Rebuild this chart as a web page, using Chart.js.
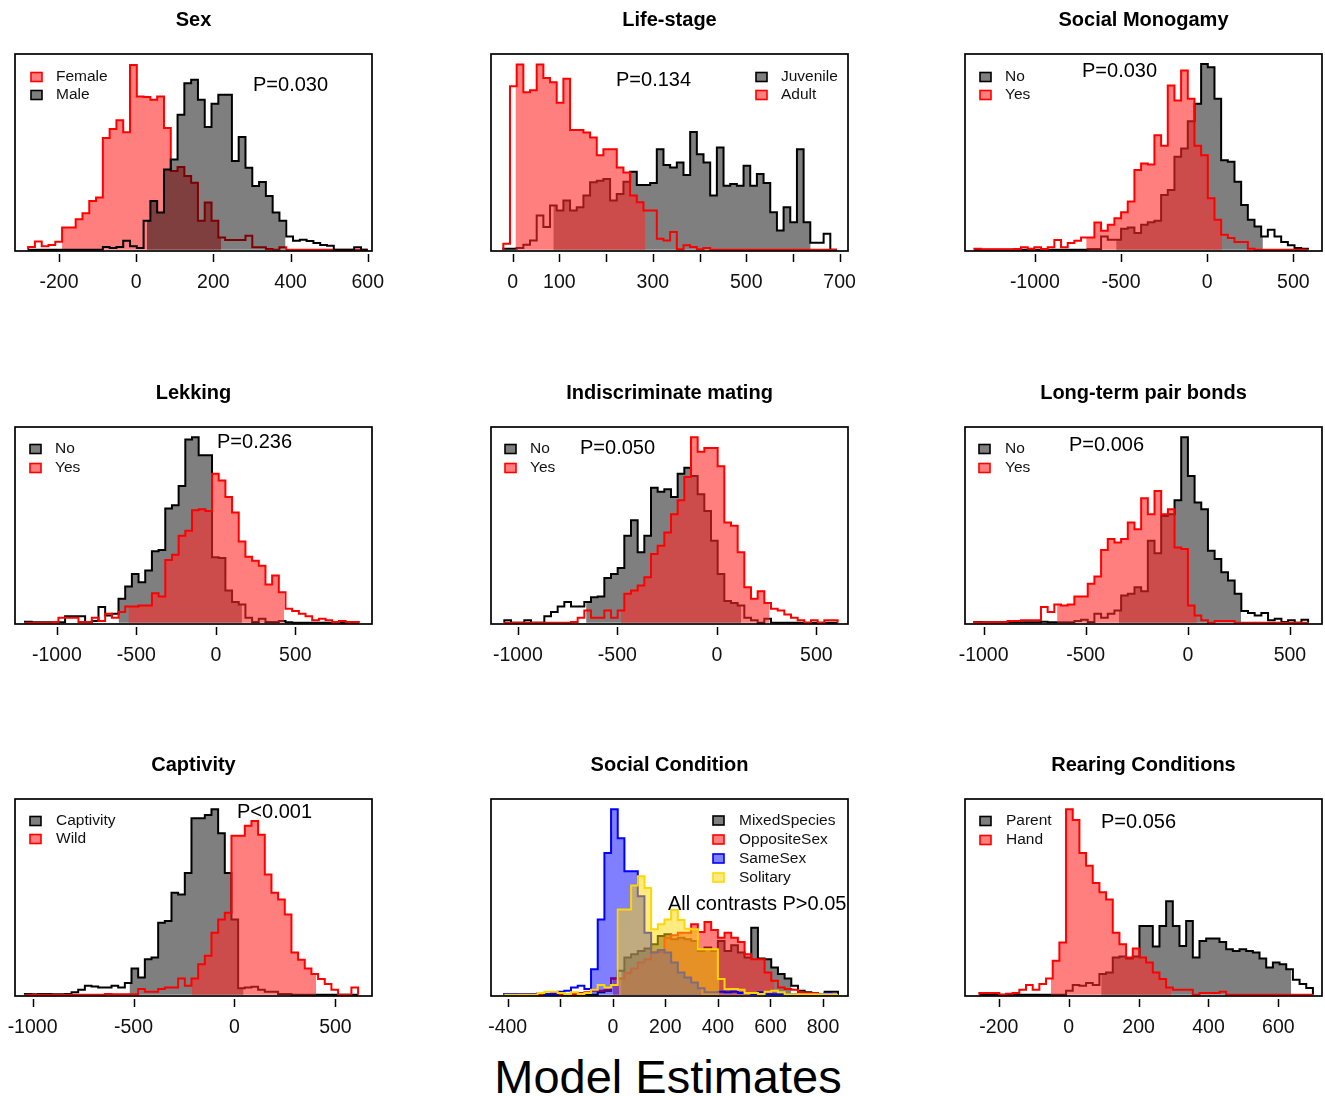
<!DOCTYPE html>
<html>
<head>
<meta charset="utf-8">
<title>Model Estimates</title>
<script src="https://cdn.jsdelivr.net/npm/chart.js@4.4.1/dist/chart.umd.min.js"></script>
<style>
html,body{margin:0;padding:0;background:#ffffff;}
body{position:relative;width:1325px;height:1096px;overflow:hidden;font-family:"Liberation Sans",Arial,Helvetica,sans-serif;}
.pane{position:absolute;}
.pane canvas{display:block;}
#xlab{position:absolute;left:668px;top:1049px;transform:translateX(-50%);font-size:47px;line-height:56px;white-space:nowrap;color:#000;}
</style>
</head>
<body>
<div id="xlab">Model Estimates</div>
<script>
// ---------------- DATA ----------------
const panelTitles = ["Sex", "Life-stage", "Social Monogamy", "Lekking", "Indiscriminate mating",
  "Long-term pair bonds", "Captivity", "Social Condition", "Rearing Conditions"];
const panelNotes = ["P=0.030", "P=0.134", "P=0.030", "P=0.236", "P=0.050", "P=0.006", "P<0.001",
  "All contrasts P>0.05", "P=0.056"];

// x-axis tick values and the ones that carry a label
const ticksSex = [-200, 0, 200, 400, 600];
const ticksLife = [0, 100, 200, 300, 400, 500, 600, 700];
const labelsLife = [0, 100, 300, 500, 700];
const ticksWide = [-1000, -500, 0, 500];
const ticksSocial = [-400, -200, 0, 200, 400, 600, 800];
const labelsSocial = [-400, 0, 200, 400, 600, 800];
const ticksRear = [-200, 0, 200, 400, 600];

// histogram frequencies (50 bins each), bin layout {start, width}, shaded 95% interval
const sexBins = { start: -280, width: 17.6 };
const sexFemale = [8,25,10,14,24,67,67,92,110,147, 157,337,364,390,354,557,462,460,452,462, 367,237,249,222,202,87,142,87,37,29, 29,29,42,7,7,2,0,7,0,0, 0,0,0,0,0,0,0,0,0,0];
const sexFemaleCI = [-192, 220];
const sexMale = [0,0,0,0,0,0,0,0,0,0, 0,8,5,8,27,10,5,87,147,112, 242,272,407,502,512,452,370,440,467,467, 267,340,247,192,204,162,112,87,40,27, 30,26,20,14,12,0,0,0,7,0];
const sexMaleCI = [28, 387];

const lifeBins = { start: -20, width: 14.286 };
const lifeJuvenile = [3,3,5,15,28,103,68,133,118,148, 118,128,163,203,208,213,148,168,205,235, 195,195,201,303,255,248,263,225,355,288, 263,163,308,193,198,193,253,193,228,201, 113,58,128,83,303,83,21,21,48,0];
const lifeJuvenileCI = [87, 638];
const lifeAdult = [18,493,558,475,481,558,518,505,443,515, 361,361,353,338,285,303,303,248,233,163, 143,118,118,33,28,53,1,13,8,1, 5,0,0,0,0,0,0,0,0,0, 0,0,0,0,0,0,0,0,0,0];
const lifeAdultCI = [6, 284];

const monoBins = { start: -1351, width: 38.7 };
const monoNo = [0,0,0,0,0,0,0,0,0,0, 0,0,0,0,0,0,0,2,2,40, 30,30,63,67,50,75,83,87,165,180, 280,305,387,440,560,550,455,270,265,205, 135,90,70,40,60,40,23,13,5,3];
const monoNoCI = [-528, 323];
const monoYes = [3,1,1,1,1,1,2,7,3,7, 2,7,29,7,20,27,37,37,82,57, 75,95,113,145,240,260,257,345,313,495, 450,540,455,313,285,155,90,45,35,23, 23,3,0,0,0,0,0,0,0,0];
const monoYesCI = [-702, 87];

const lekBins = { start: -1200, width: 42 };
const lekNo = [3,1,1,1,1,1,19,19,19,2, 5,47,22,27,72,109,147,122,157,215, 219,344,354,412,552,559,505,505,197,195, 97,62,55,15,2,12,2,2,5,1, 0,0,0,0,0,0,0,0,0,0];
const lekNoCI = [-612, 164];
const lekYes = [0,0,0,0,2,15,15,15,2,2, 15,5,27,15,32,49,49,52,52,89, 79,189,205,262,277,339,342,337,449,429, 379,332,245,199,187,172,115,142,92,42, 35,27,19,7,12,7,2,5,2,2];
const lekYesCI = [-550, 430];

const indBins = { start: -1068, width: 33.5 };
const indNo = [7,0,0,7,0,0,19,32,49,62, 49,49,62,77,79,135,147,165,262,309, 212,262,407,395,402,379,449,467,442,387, 337,247,147,65,59,52,15,7,0,12, 0,0,0,0,0,0,0,0,0,0];
const indNoCI = [-657, 122];
const indYes = [0,0,0,0,0,0,0,0,0,0, 2,15,37,15,15,37,15,37,87,97, 112,137,207,232,272,327,369,439,559,515, 527,527,472,302,292,212,107,72,95,59, 42,37,25,15,7,0,7,0,7,7];
const indYesCI = [-481, 265];

const pairBins = { start: -1046, width: 32.7 };
const pairNo = [2,1,1,1,1,1,1,1,1,1, 3,1,1,1,1,5,9,2,27,15, 27,37,82,87,107,95,247,209,322,327, 369,559,442,362,342,217,192,152,127,87, 35,29,22,29,7,12,2,7,0,9];
const pairNoCI = [-338, 261];
const pairYes = [1,1,1,1,1,5,5,7,7,7, 47,32,55,52,55,79,79,117,139,219, 252,242,252,302,282,375,327,397,327,342, 227,222,52,22,7,0,5,5,5,0, 0,0,0,0,0,0,0,0,0,0];
const pairYesCI = [-640, 44];

const capBins = { start: -1038, width: 33 };
const capCaptivity = [2,1,2,2,1,1,2,7,15,27, 25,22,22,27,22,35,79,52,107,112, 217,222,307,302,367,532,532,542,559,487, 367,227,19,22,24,15,9,9,2,2, 0,0,0,0,0,0,0,0,0,0];
const capCaptivityCI = [-520, 45];
const capWild = [0,0,0,0,0,0,0,0,0,0, 0,0,2,1,1,1,1,17,9,9, 17,22,22,49,27,49,92,117,187,227, 247,479,479,509,524,482,362,307,287,242, 127,105,79,62,47,32,15,0,0,22];
const capWildCI = [-211, 405];

const socBins = { start: -413, width: 25.4 };
const socMixed = [0,0,0,0,0,0,0,0,0,0, 0,0,0,0,7,12,49,72,112,122, 132,139,152,177,182,167,172,167,162,132, 142,132,162,132,149,127,112,202,109,107, 82,62,49,27,12,7,5,2,9,9];
const socMixedCI = [32, 679];
const socOpposite = [1,1,1,1,1,1,1,5,1,1, 1,5,7,12,12,15,49,49,65,79, 97,107,129,129,172,179,187,187,212,189, 219,195,172,187,172,159,122,107,107,67, 42,22,17,15,7,5,5,2,0,0];
const socOppositeCI = [0, 616];
const socSame = [2,2,1,1,1,5,2,2,9,12, 22,27,17,77,227,427,559,472,372,372, 297,187,127,135,127,97,67,52,37,19, 7,7,9,7,9,5,5,2,7,1, 1,1,1,1,1,1,1,1,5,0];
const socSameCI = [-82, 337];
const socSolitary = [0,0,0,0,0,5,9,9,5,2, 7,2,5,15,29,22,29,257,257,329, 357,322,197,212,227,255,225,199,197,137, 137,137,47,17,17,15,5,5,2,9, 12,7,1,1,1,1,1,1,1,0];
const socSolitaryCI = [23, 406];

const rearBins = { start: -256, width: 19.1 };
const rearParent = [0,0,0,0,0,0,0,0,0,0, 0,0,0,12,29,27,35,29,62,67, 112,115,109,115,207,207,145,207,282,207, 147,222,112,162,169,169,159,137,132,137, 132,127,109,82,97,92,77,45,32,20];
const rearParentCI = [93, 637];
const rearHand = [5,5,5,0,3,5,15,29,15,32, 49,102,157,559,527,427,389,337,309,287, 187,152,112,139,112,97,67,47,22,15, 15,15,0,5,5,5,9,0,0,0, 0,0,0,0,0,0,0,0,0,0];
const rearHandCI = [-51, 293];

// ---------------- STYLE / LAYOUT ----------------
const FONT = '"Liberation Sans", Arial, Helvetica, sans-serif';
const RED = { line: '#FF0000', fill: 'rgba(255,40,40,0.6)' };
const BLACK = { line: '#000000', fill: 'rgba(0,0,0,0.5)' };
const BLUE = { line: '#0000FF', fill: 'rgba(0,0,255,0.5)' };
const GOLD = { line: '#FFD700', fill: 'rgba(255,215,0,0.5)' };

const panels = [
  { bins: sexBins, series: [
    { name: 'Female', c: sexFemale, ci: sexFemaleCI, col: RED },
    { name: 'Male', c: sexMale, ci: sexMaleCI, col: BLACK } ] },
  { bins: lifeBins, series: [
    { name: 'Juvenile', c: lifeJuvenile, ci: lifeJuvenileCI, col: BLACK },
    { name: 'Adult', c: lifeAdult, ci: lifeAdultCI, col: RED } ] },
  { bins: monoBins, series: [
    { name: 'No', c: monoNo, ci: monoNoCI, col: BLACK },
    { name: 'Yes', c: monoYes, ci: monoYesCI, col: RED } ] },
  { bins: lekBins, series: [
    { name: 'No', c: lekNo, ci: lekNoCI, col: BLACK },
    { name: 'Yes', c: lekYes, ci: lekYesCI, col: RED } ] },
  { bins: indBins, series: [
    { name: 'No', c: indNo, ci: indNoCI, col: BLACK },
    { name: 'Yes', c: indYes, ci: indYesCI, col: RED } ] },
  { bins: pairBins, series: [
    { name: 'No', c: pairNo, ci: pairNoCI, col: BLACK },
    { name: 'Yes', c: pairYes, ci: pairYesCI, col: RED } ] },
  { bins: capBins, series: [
    { name: 'Captivity', c: capCaptivity, ci: capCaptivityCI, col: BLACK },
    { name: 'Wild', c: capWild, ci: capWildCI, col: RED } ] },
  { bins: socBins, series: [
    { name: 'MixedSpecies', c: socMixed, ci: socMixedCI, col: BLACK },
    { name: 'OppositeSex', c: socOpposite, ci: socOppositeCI, col: RED },
    { name: 'SameSex', c: socSame, ci: socSameCI, col: BLUE },
    { name: 'Solitary', c: socSolitary, ci: socSolitaryCI, col: GOLD } ] },
  { bins: rearBins, series: [
    { name: 'Parent', c: rearParent, ci: rearParentCI, col: BLACK },
    { name: 'Hand', c: rearHand, ci: rearHandCI, col: RED } ] }
];

const layout = [
  { box: [15, 54],  xr: [-314, 611],    ticks: ticksSex,    labels: ticksSex,     legend: { sx: 16, tx: 41, y0: 23, dy: 18 },  note: { x: 238, y: 31 } },
  { box: [491, 54], xr: [-46.4, 717.9], ticks: ticksLife,   labels: labelsLife,   legend: { sx: 265, tx: 290, y0: 23, dy: 18 }, note: { x: 125, y: 26 } },
  { box: [965, 54], xr: [-1405, 666],   ticks: ticksWide,   labels: ticksWide,    legend: { sx: 15, tx: 40, y0: 23, dy: 18 },  note: { x: 117, y: 17 } },
  { box: [15, 427], xr: [-1263, 982],   ticks: ticksWide,   labels: ticksWide,    legend: { sx: 15, tx: 40, y0: 22, dy: 19 },  note: { x: 202, y: 15 } },
  { box: [491, 427], xr: [-1135, 659],  ticks: ticksWide,   labels: ticksWide,    legend: { sx: 14, tx: 39, y0: 22, dy: 19 },  note: { x: 89, y: 21 } },
  { box: [965, 427], xr: [-1091, 657],  ticks: ticksWide,   labels: ticksWide,    legend: { sx: 14, tx: 40, y0: 22, dy: 19 },  note: { x: 104, y: 18 } },
  { box: [15, 799], xr: [-1087, 681],   ticks: ticksWide,   labels: ticksWide,    legend: { sx: 15, tx: 41, y0: 22, dy: 18 },  note: { x: 222, y: 13 } },
  { box: [491, 799], xr: [-463.5, 895], ticks: ticksSocial, labels: labelsSocial, legend: { sx: 222, tx: 248, y0: 21.5, dy: 19 }, note: { x: 177, y: 105 } },
  { box: [965, 799], xr: [-297, 725],   ticks: ticksRear,   labels: ticksRear,    legend: { sx: 15, tx: 41, y0: 22, dy: 19 },  note: { x: 136, y: 23 } }
];

const BOX_W = 357, BOX_H = 197, PAD_X = 30, PAD_TOP = 50, PAD_BOTTOM = 50;

Chart.defaults.font.family = FONT;
Chart.defaults.animation = false;

function outlinePoints(bins, counts) {
  const pts = [{ x: bins.start, y: 0 }];
  counts.forEach((c, i) => pts.push({ x: bins.start + i * bins.width, y: c }));
  pts.push({ x: bins.start + counts.length * bins.width, y: 0 });
  return pts;
}
function shadePoints(bins, counts, ci) {
  const n = counts.length;
  const idx = v => Math.min(n - 1, Math.max(0, Math.floor((v - bins.start) / bins.width)));
  const lo = ci[0], hi = ci[1];
  const i0 = idx(lo), i1 = idx(hi - 1e-6);
  const pts = [{ x: lo, y: 0 }, { x: lo, y: counts[i0] }];
  for (let i = i0 + 1; i <= i1; i++) pts.push({ x: bins.start + i * bins.width, y: counts[i] });
  pts.push({ x: hi, y: 0 });
  return pts;
}

const decor = {
  id: 'decor',
  afterDraw(chart, args, o) {
    const ctx = chart.ctx, a = chart.chartArea, xs = chart.scales.x;
    ctx.save();
    ctx.strokeStyle = '#000';
    ctx.lineWidth = 1.7;
    ctx.strokeRect(a.left, a.top, a.right - a.left, a.bottom - a.top);
    ctx.lineWidth = 1.5;
    o.ticks.forEach(v => {
      const px = Math.round(xs.getPixelForValue(v)) + 0.5;
      ctx.beginPath();
      ctx.moveTo(px, a.bottom + 3);
      ctx.lineTo(px, a.bottom + 11);
      ctx.stroke();
    });
    ctx.textBaseline = 'middle';
    ctx.textAlign = 'left';
    ctx.font = '15.5px ' + FONT;
    o.items.forEach((it, i) => {
      const yc = a.top + o.legend.y0 + i * o.legend.dy;
      const x0 = a.left + o.legend.sx;
      ctx.fillStyle = '#fff';
      ctx.fillRect(x0, yc - 4.5, 11, 9);
      ctx.fillStyle = it.fill;
      ctx.fillRect(x0, yc - 4.5, 11, 9);
      ctx.strokeStyle = it.line;
      ctx.lineWidth = 1.6;
      ctx.strokeRect(x0, yc - 4.5, 11, 9);
      ctx.fillStyle = '#111';
      ctx.fillText(it.name, a.left + o.legend.tx, yc);
    });
    ctx.font = '20px ' + FONT;
    ctx.fillStyle = '#000';
    ctx.fillText(o.noteText, a.left + o.note.x, a.top + o.note.y);
    ctx.restore();
  }
};

panels.forEach((p, k) => {
  const L = layout[k];
  const W = BOX_W + 2 * PAD_X, H = BOX_H + PAD_TOP + PAD_BOTTOM;
  const div = document.createElement('div');
  div.className = 'pane';
  div.style.left = (L.box[0] - PAD_X) + 'px';
  div.style.top = (L.box[1] - PAD_TOP) + 'px';
  const cv = document.createElement('canvas');
  cv.width = W; cv.height = H;
  cv.style.width = W + 'px'; cv.style.height = H + 'px';
  div.appendChild(cv);
  document.body.appendChild(div);

  const datasets = [];
  p.series.forEach(s => {
    datasets.push({
      label: s.name + ' interval', data: shadePoints(p.bins, s.c, s.ci), stepped: 'before',
      fill: 'origin', backgroundColor: s.col.fill, borderColor: 'rgba(0,0,0,0)', borderWidth: 0,
      pointRadius: 0, tension: 0
    });
    datasets.push({
      label: s.name, data: outlinePoints(p.bins, s.c), stepped: 'before',
      fill: false, borderColor: s.col.line, borderWidth: 2, pointRadius: 0, tension: 0
    });
  });
  const N = datasets.length;
  datasets.forEach((d, i) => { d.order = N - i; });

  new Chart(cv, {
    type: 'line',
    data: { datasets },
    options: {
      responsive: false, maintainAspectRatio: false, devicePixelRatio: 1, animation: false, events: [],
      layout: { padding: { left: PAD_X, right: PAD_X, top: 0, bottom: 0 } },
      plugins: {
        legend: { display: false },
        tooltip: { enabled: false },
        title: { display: true, text: panelTitles[k], color: '#000',
          font: { size: 20, weight: 'bold', family: FONT }, padding: { top: 4, bottom: 22 } },
        decor: {
          ticks: L.ticks, legend: L.legend, note: L.note, noteText: panelNotes[k],
          items: p.series.map(s => ({ name: s.name, fill: s.col.fill, line: s.col.line }))
        }
      },
      scales: {
        x: {
          type: 'linear', min: L.xr[0], max: L.xr[1],
          afterBuildTicks: (s) => { s.ticks = L.ticks.map(v => ({ value: v })); },
          afterFit: (s) => { s.height = PAD_BOTTOM; },
          ticks: { autoSkip: false, maxRotation: 0, minRotation: 0, padding: 8, color: '#111',
            font: { size: 19.5, family: FONT },
            callback: (v) => (L.labels.indexOf(v) >= 0 ? String(v) : '') },
          grid: { display: true, drawOnChartArea: false, drawTicks: true, tickLength: 12, color: 'rgba(0,0,0,0)' },
          border: { display: false }
        },
        y: { type: 'linear', display: false, min: -4, max: 590 }
      }
    },
    plugins: [decor]
  });
});
</script>
</body>
</html>
